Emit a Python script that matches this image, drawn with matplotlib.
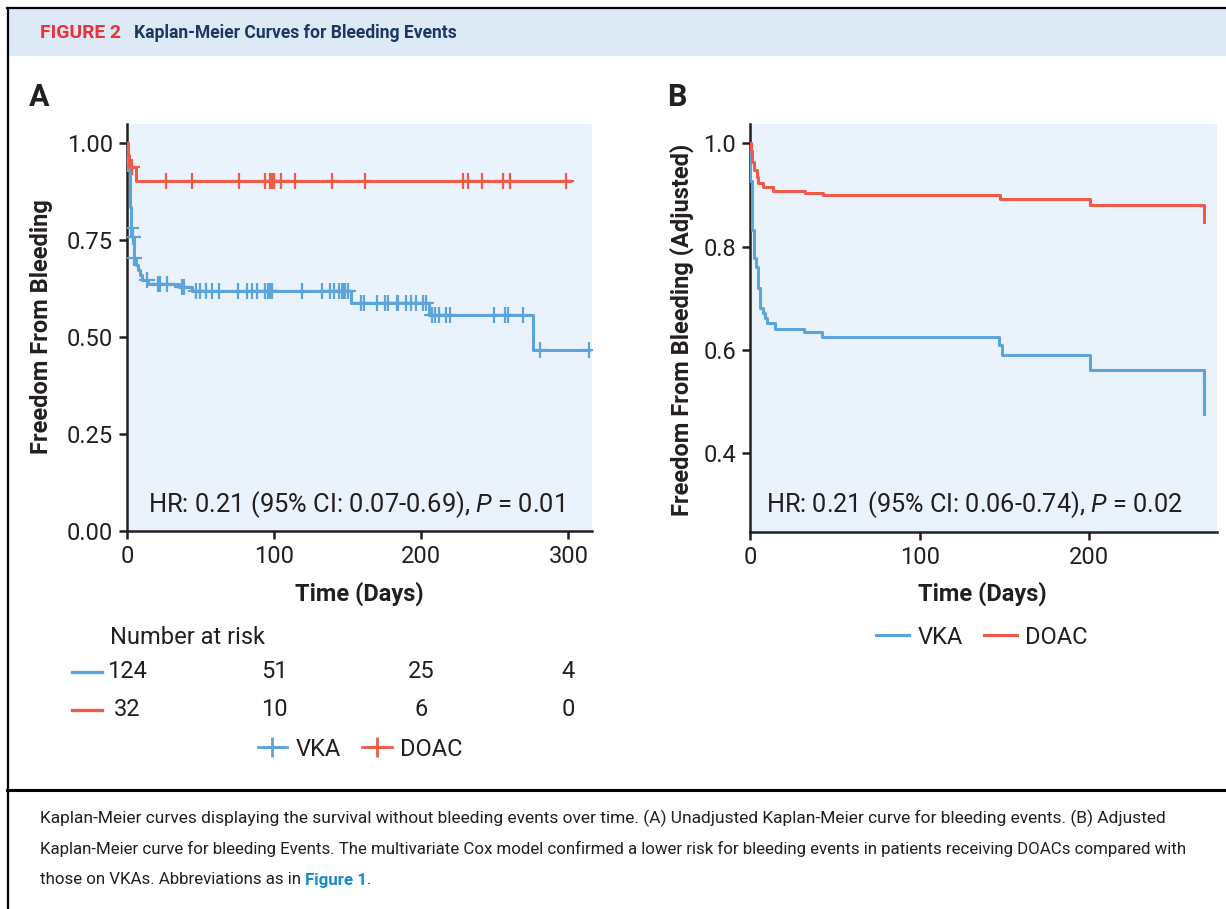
import numpy as np
import matplotlib
matplotlib.use("Agg")
import matplotlib.pyplot as plt
from matplotlib.lines import Line2D
from matplotlib.patches import Rectangle
import matplotlib.transforms as mtransforms

plt.rcParams['font.family'] = ['Roboto', 'DejaVu Sans']
plt.rcParams['mathtext.fontset'] = 'custom'
plt.rcParams['mathtext.rm'] = 'Roboto'
plt.rcParams['mathtext.it'] = 'Roboto:italic'

# ---------------- data ----------------
groups = ["VKA", "DOAC"]

# Panel A (unadjusted) step curves: times and survival after each step
a_vka_t = [0, 0.3, 1.8, 2.7, 3.6, 4.6, 5.9, 7.5, 9.1, 10.5, 14.3, 35.0, 44.5, 152.3, 205.3, 275.6, 314.0]
a_vka_s = [1.0, 0.930, 0.836, 0.780, 0.759, 0.703, 0.686, 0.673, 0.660, 0.647, 0.637, 0.630, 0.619, 0.587, 0.558, 0.466, 0.466]
a_vka_cens = [2.9, 3.9, 5.0, 13.6, 21.1, 22.2, 27.2, 37.5, 39.0, 46.7, 49.5, 53.5, 58.1, 62.4,
              75.2, 81.6, 84.8, 88.4, 93.9, 95.7, 97.1, 98.4, 119.0, 132.3, 137.9, 140.9,
              144.1, 145.9, 146.9, 148.2, 150.5, 159.2, 160.8, 169.9, 175.6, 177.5, 183.6,
              184.3, 189.3, 192.7, 196.2, 201.2, 203.5, 207.6, 209.4, 212.2, 216.7, 219.7,
              249.1, 257.1, 258.9, 269.2, 280.6, 313.7]

a_doac_t = [0, 0.5, 1.4, 5.9, 301.0]
a_doac_s = [1.0, 0.969, 0.938, 0.903, 0.903]
a_doac_cens = [3.4, 26.8, 44.5, 75.9, 93.9, 97.5, 98.7, 99.6, 104.4, 114.4, 139.3, 161.9,
               228.6, 232.0, 241.1, 255.5, 260.1, 298.2]

# Panel B (adjusted)
b_vka_t = [0, 0.2, 1.3, 2.2, 3.8, 4.8, 5.8, 7.4, 8.7, 10.1, 14.6, 31.7, 42.2, 146.7, 148.6, 200.3, 267.4]
b_vka_s = [1.0, 0.926, 0.832, 0.777, 0.761, 0.719, 0.681, 0.671, 0.661, 0.652, 0.641, 0.634, 0.625, 0.610, 0.590, 0.561, 0.476]

b_doac_t = [0, 0.4, 1.4, 2.6, 3.9, 4.9, 7.9, 13.8, 32.4, 43.2, 147.2, 200.3, 267.4]
b_doac_s = [1.0, 0.984, 0.963, 0.948, 0.934, 0.923, 0.915, 0.908, 0.904, 0.899, 0.891, 0.881, 0.848]

# Number at risk (panel A)
risk_times = [0, 100, 200, 300]
risk_vka = [124, 51, 25, 4]
risk_doac = [32, 10, 6, 0]

a_yticks = [0.0, 0.25, 0.50, 0.75, 1.00]
a_xticks = [0, 100, 200, 300]
b_yticks = [0.4, 0.6, 0.8, 1.0]
b_xticks = [0, 100, 200]

hr_a = "HR: 0.21 (95% CI: 0.07-0.69), $\\mathit{P}$ = 0.01"
hr_b = "HR: 0.21 (95% CI: 0.06-0.74), $\\mathit{P}$ = 0.02"

caption_lines = [
    "Kaplan-Meier curves displaying the survival without bleeding events over time. (A) Unadjusted Kaplan-Meier curve for bleeding events. (B) Adjusted",
    "Kaplan-Meier curve for bleeding Events. The multivariate Cox model confirmed a lower risk for bleeding events in patients receiving DOACs compared with",
    "those on VKAs. Abbreviations as in ",
]

# ---------------- style ----------------
BLUE = '#5ba5dc'
RED = '#ef5b46'
BG = '#eaf2fb'
INK = '#231f20'

W, H = 1226, 909
fig = plt.figure(figsize=(W / 100, H / 100), dpi=100)
fig.patch.set_facecolor('white')


def fx(px):
    return px / W


def fy(py):
    return 1 - py / H


# header band and borders
fig.add_artist(Rectangle((fx(9), fy(56)), 1 - fx(9), fy(9) - fy(56), transform=fig.transFigure,
                         facecolor='#dde9f5', edgecolor='none', zorder=0))
fig.add_artist(Line2D([fx(7), 1], [fy(8), fy(8)], color='black', lw=1.6))
fig.add_artist(Line2D([fx(8), fx(8)], [fy(8), 0], color='black', lw=1.6))
fig.add_artist(Line2D([fx(7), 1], [fy(790), fy(790)], color='black', lw=2.2))

renderer = fig.canvas.get_renderer()


def fit(txt, target):
    w = txt.get_window_extent(renderer).width
    txt.set_fontsize(txt.get_fontsize() * target / w)
    return txt


t1 = fig.text(fx(40), fy(33), "FIGURE 2", color='#e8333a', fontsize=11, fontweight='bold',
              ha='left', va='center')
fit(t1, 81)
t2 = fig.text(fx(134), fy(33), "Kaplan-Meier Curves for Bleeding Events", color='#1b3764',
              fontsize=11, fontweight='bold', ha='left', va='center')
fit(t2, 324)

fig.text(fx(29), fy(97), "A", fontsize=22, fontweight='bold', color=INK, ha='left', va='center')
fig.text(fx(667), fy(97), "B", fontsize=22, fontweight='bold', color=INK, ha='left', va='center')


def style_axes(ax):
    ax.set_facecolor(BG)
    for s in ['top', 'right']:
        ax.spines[s].set_visible(False)
    for s in ['left', 'bottom']:
        ax.spines[s].set_color(INK)
        ax.spines[s].set_linewidth(1.8)
    ax.tick_params(direction='out', length=6, width=1.8, color=INK, labelsize=17,
                   labelcolor=INK, pad=4)


def km(ax, t, s, color, cens=None):
    ax.step(t, s, where='post', color=color, lw=2.2, zorder=3)
    if cens is not None:
        t_arr = np.asarray(t)
        s_arr = np.asarray(s)
        idx = np.searchsorted(t_arr, cens, side='right') - 1
        ax.plot(cens, s_arr[idx], ls='none', marker='+', ms=11, mew=1.6, color=color, zorder=4)


# ---------------- Panel A ----------------
axA = fig.add_axes([fx(127), fy(531), fx(592) - fx(127), fy(124) - fy(531)])
style_axes(axA)
km(axA, a_vka_t, a_vka_s, BLUE, a_vka_cens)
km(axA, a_doac_t, a_doac_s, RED, a_doac_cens)
axA.set_xlim(0, 316)
axA.set_ylim(0, 1.049)
axA.set_xticks(a_xticks)
axA.set_yticks(a_yticks)
axA.set_yticklabels([f"{v:.2f}" for v in a_yticks])
for sp in axA.spines.values():
    sp.set_clip_on(False)

ta = fig.text(fx(148), fy(505), hr_a, fontsize=16, color=INK, ha='left', va='center')
fit(ta, 417)

fig.text(fx(42), fy(327), "Freedom From Bleeding", rotation=90, fontsize=17, fontweight='bold',
         color=INK, ha='center', va='center')
fig.text(fx(359), fy(594), "Time (Days)", fontsize=17, fontweight='bold', color=INK,
         ha='center', va='center')

# Number at risk table
trA = mtransforms.blended_transform_factory(axA.transData, fig.transFigure)
fig.text(fx(110), fy(637), "Number at risk", fontsize=17, color=INK, ha='left', va='center')
for x, n in zip(risk_times, risk_vka):
    fig.text(x, fy(672), str(n), transform=trA, fontsize=17, color=INK, ha='center', va='center')
for x, n in zip(risk_times, risk_doac):
    fig.text(x, fy(710), str(n), transform=trA, fontsize=17, color=INK, ha='center', va='center')
fig.add_artist(Line2D([fx(72), fx(102)], [fy(672), fy(672)], color=BLUE, lw=2.4))
fig.add_artist(Line2D([fx(72), fx(102)], [fy(710), fy(710)], color=RED, lw=2.4))

hA = [Line2D([], [], color=BLUE, marker='+', ms=14, mew=2.0, lw=2.0),
      Line2D([], [], color=RED, marker='+', ms=14, mew=2.0, lw=2.0)]
fig.legend(hA, groups, loc='center', bbox_to_anchor=(fx(360), fy(749)), ncol=2, frameon=False,
           fontsize=17, handlelength=1.25, columnspacing=0.9, handletextpad=0.35,
           labelcolor=INK)

# ---------------- Panel B ----------------
axB = fig.add_axes([fx(750), fy(532), fx(1217) - fx(750), fy(124) - fy(532)])
style_axes(axB)
km(axB, b_vka_t, b_vka_s, BLUE)
km(axB, b_doac_t, b_doac_s, RED)
axB.set_xlim(0, 275.3)
axB.set_ylim(0.248, 1.037)
axB.set_xticks(b_xticks)
axB.set_yticks(b_yticks)
axB.set_yticklabels([f"{v:.1f}" for v in b_yticks])

tb = fig.text(fx(766), fy(505), hr_b, fontsize=16, color=INK, ha='left', va='center')
fit(tb, 418)

fig.text(fx(682), fy(330), "Freedom From Bleeding (Adjusted)", rotation=90, fontsize=17,
         fontweight='bold', color=INK, ha='center', va='center')
fig.text(fx(982), fy(594), "Time (Days)", fontsize=17, fontweight='bold', color=INK,
         ha='center', va='center')

hB = [Line2D([], [], color=BLUE, lw=2.2), Line2D([], [], color=RED, lw=2.2)]
fig.legend(hB, groups, loc='center', bbox_to_anchor=(fx(982), fy(637)), ncol=2, frameon=False,
           fontsize=17, handlelength=1.4, columnspacing=0.9, handletextpad=0.35,
           labelcolor=INK)

# ---------------- Caption ----------------
c1 = fig.text(fx(40), fy(818), caption_lines[0], fontsize=12, color=INK, ha='left', va='center')
fit(c1, 1126)
c2 = fig.text(fx(40), fy(849), caption_lines[1], fontsize=12, color=INK, ha='left', va='center')
fit(c2, 1148)
cfs = c2.get_fontsize()
c3 = fig.text(fx(40), fy(880), caption_lines[2], fontsize=cfs, color=INK, ha='left', va='center')
w3 = c3.get_window_extent(renderer).width
c4 = fig.text(fx(40 + w3), fy(880), "Figure 1", fontsize=cfs, color='#1a8ac6',
              fontweight='bold', ha='left', va='center')
w4 = c4.get_window_extent(renderer).width
fig.text(fx(40 + w3 + w4), fy(880), ".", fontsize=cfs, color=INK, ha='left', va='center')

fig.savefig("out.png", dpi=100, facecolor='white')
